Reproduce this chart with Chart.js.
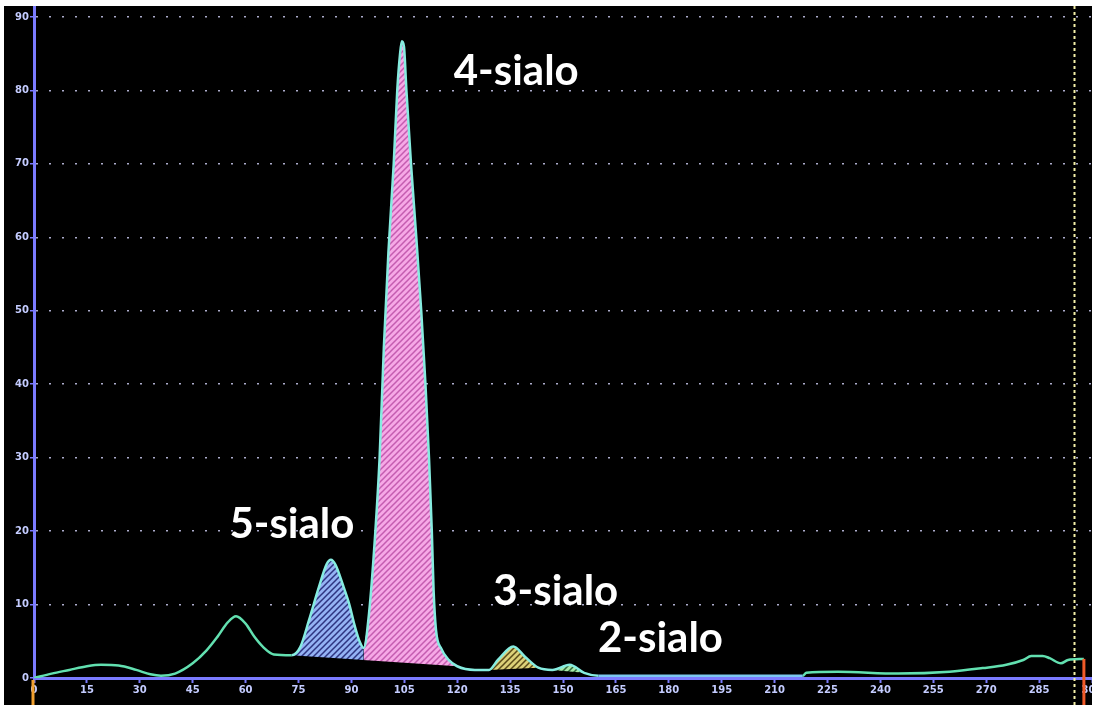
<!DOCTYPE html>
<html>
<head>
<meta charset="utf-8">
<script src="https://cdn.jsdelivr.net/npm/chart.js@4"></script>
<style>
html, body { margin: 0; padding: 0; background: #fff; }
#wrap { position: absolute; left: 4px; top: 6px; width: 1088px; height: 699px; background: #000; }
</style>
</head>
<body>
<div id="wrap"><canvas id="electro-chart"></canvas></div>
<script>
// migration time (x) and signal (y)
var signalX = [0, 5, 10, 15, 19, 24, 29, 33, 36, 40,
    45, 49, 52, 55, 57.3, 60, 62.5, 65, 68, 73,
    75.5, 78, 80.8, 83, 84.2, 85.5, 87.5, 89.3, 91, 92.3,
    93.5, 95, 96.8, 98, 99.2, 100.5, 102, 103, 103.8, 104.3,
    104.9, 105.6, 106.9, 108.4, 109.8, 111, 112, 112.8, 113.3, 114,
    115.5, 117.5, 120, 125, 129, 131.6, 135.9, 139.2, 143, 147,
    151.9, 156, 160, 180, 200, 218, 219, 228, 245, 259.6,
    269, 275.7, 280.5, 282.8, 286, 288, 291.2, 293.2, 297.7];
var signalY = [0, 0.6, 1.1, 1.6, 1.8, 1.7, 1.1, 0.5, 0.3, 0.6,
    2.0, 3.8, 5.6, 7.6, 8.4, 7.4, 5.6, 4.2, 3.2, 3.1,
    4.2, 7.9, 12.4, 15.5, 16.1, 15.4, 12.8, 10.2, 7.0, 5.0,
    4.1, 8.8, 20, 30, 45, 58, 70, 80, 85, 86.7,
    86, 80, 70, 60, 50, 40, 30, 20, 12, 6.5,
    4.0, 2.5, 1.6, 1.1, 1.1, 2.5, 4.3, 2.9, 1.4, 1.1,
    1.8, 0.7, 0.3, 0.3, 0.3, 0.3, 0.7, 0.85, 0.6, 0.85,
    1.35, 1.8, 2.45, 3.0, 3.0, 2.7, 2.0, 2.45, 2.6];

// peaks: name, integration window, baseline under the hatch
var peakNames  = ['5-sialo', '4-sialo', '3-sialo', '2-sialo'];
var peakStart  = [73, 93.5, 129, 147];
var peakEnd    = [93.5, 120, 143, 156];
var baseStartY = [3.1, 3.1, 1.1, 1.1];
var baseEndY   = [1.6, 1.6, 1.4, 0.7];
var baseStartX = [73, 73, 129, 147];
var baseEndX   = [120, 120, 143, 156];

// label anchors (data units)
var labelX = [55.4, 119, 130.2, 159.9];
var labelY = [19.1, 80.8, 9.9, 3.5];

var xTickStep = 15;
var yTickStep = 10;
var markerX = 295;

var AXIS_BLUE = '#7b7bff';

function hatch(bg, fg) {
    var c = document.createElement('canvas');
    c.width = 6; c.height = 6;
    var g = c.getContext('2d');
    g.fillStyle = bg;
    g.fillRect(0, 0, 6, 6);
    g.strokeStyle = fg;
    g.lineWidth = 1.5;
    g.beginPath();
    g.moveTo(-1, 7); g.lineTo(7, -1);
    g.moveTo(-4, 4); g.lineTo(4, -4);
    g.moveTo(2, 10); g.lineTo(10, 2);
    g.stroke();
    return g.createPattern(c, 'repeat');
}

var peakFills = [
    hatch('#94b2f4', '#2e3480'),
    hatch('#f6a8e6', '#c45cb0'),
    hatch('#dcd078', '#5a4a18'),
    hatch('#a8e8a8', '#2e6a3e')
];

var signal = signalX.map(function (x, i) { return {x: x, y: signalY[i]}; });

var datasets = [{
    data: signal,
    borderColor: '#62e0b0',
    borderWidth: 2.5,
    pointRadius: 0,
    fill: false,
    cubicInterpolationMode: 'monotone',
    order: 0,
    segment: {
        borderColor: function (ctx) {
            var x = ctx.p0.parsed.x;
            if (x >= 73 && x < 160) return '#86ece0';
            if (x >= 160 && x < 218) return '#7cc8f0';
            return undefined;
        }
    }
}];

// baselines, one per distinct window (index 1..3)
var baseIndex = [1, 1, 2, 3];
[0, 2, 3].forEach(function (p) {
    datasets.push({
        data: [{x: baseStartX[p], y: baseStartY[p]}, {x: baseEndX[p], y: baseEndY[p]}],
        borderColor: 'rgba(0,0,0,0)',
        borderWidth: 0,
        pointRadius: 0,
        fill: false,
        order: 2
    });
});

peakNames.forEach(function (name, p) {
    datasets.push({
        label: name,
        data: signal.filter(function (pt) { return pt.x >= peakStart[p] && pt.x <= peakEnd[p]; }),
        borderColor: 'rgba(0,0,0,0)',
        borderWidth: 0,
        pointRadius: 0,
        backgroundColor: peakFills[p],
        fill: baseIndex[p],
        cubicInterpolationMode: 'monotone',
        order: 1
    });
});

var overlay = {
    id: 'overlay',
    afterDraw: function (chart) {
        var ctx = chart.ctx, xs = chart.scales.x, ys = chart.scales.y;
        var H = chart.height;
        ctx.save();
        // dashed end marker
        var mx = Math.round(xs.getPixelForValue(markerX)) + 0.5;
        ctx.strokeStyle = '#f4f0a8';
        ctx.lineWidth = 2;
        ctx.setLineDash([3, 3]);
        ctx.beginPath(); ctx.moveTo(mx, 0); ctx.lineTo(mx, H); ctx.stroke();
        ctx.setLineDash([]);
        // orange start / end ticks
        ctx.strokeStyle = '#f0a030';
        ctx.lineWidth = 3;
        var x0 = xs.getPixelForValue(0) - 1;
        ctx.beginPath(); ctx.moveTo(x0, ys.getPixelForValue(0) + 2); ctx.lineTo(x0, H); ctx.stroke();
        ctx.strokeStyle = '#f05a28';
        var x1 = xs.getPixelForValue(signalX[signalX.length - 1]);
        ctx.beginPath(); ctx.moveTo(x1, ys.getPixelForValue(signalY[signalY.length - 1])); ctx.lineTo(x1, H); ctx.stroke();
        // peak names
        ctx.fillStyle = '#ffffff';
        ctx.font = 'bold 42px Lato';
        ctx.textAlign = 'left';
        ctx.textBaseline = 'alphabetic';
        peakNames.forEach(function (name, i) {
            ctx.fillText(name, xs.getPixelForValue(labelX[i]), ys.getPixelForValue(labelY[i]));
        });
        ctx.restore();
    }
};

new Chart(document.getElementById('electro-chart').getContext('2d'), {
    type: 'line',
    data: {datasets: datasets},
    options: {
        responsive: true,
        maintainAspectRatio: false,
        animation: false,
        layout: {padding: 0},
        plugins: {legend: {display: false}, tooltip: {enabled: false}},
        scales: {
            x: {
                type: 'linear',
                min: 0,
                max: 300,
                ticks: {
                    stepSize: xTickStep,
                    autoSkip: false,
                    maxRotation: 0,
                    padding: 1,
                    color: '#c4ccff',
                    font: {family: 'DejaVu Sans', size: 10, weight: 'bold'}
                },
                grid: {drawOnChartArea: false, tickLength: 5, tickColor: AXIS_BLUE, tickWidth: 2},
                border: {color: AXIS_BLUE, width: 3},
                afterFit: function (s) { s.height = 27; s.paddingLeft = 0; s.paddingRight = 0; }
            },
            y: {
                min: 0,
                max: 91.5,
                ticks: {
                    stepSize: yTickStep,
                    includeBounds: false,
                    padding: 1,
                    color: '#c4ccff',
                    font: {family: 'DejaVu Sans', size: 10, weight: 'bold'}
                },
                grid: {
                    color: function (c) { return c.tick && c.tick.value === 0 ? 'rgba(0,0,0,0)' : 'rgba(215,215,255,0.8)'; },
                    lineWidth: 1.5,
                    tickLength: 4,
                    tickColor: AXIS_BLUE,
                    tickBorderDash: []
                },
                border: {color: AXIS_BLUE, width: 3, dash: [2, 11]},
                afterFit: function (s) { s.width = 30; s.paddingTop = 0; s.paddingBottom = 0; }
            }
        }
    },
    plugins: [overlay]
});
</script>
</body>
</html>
